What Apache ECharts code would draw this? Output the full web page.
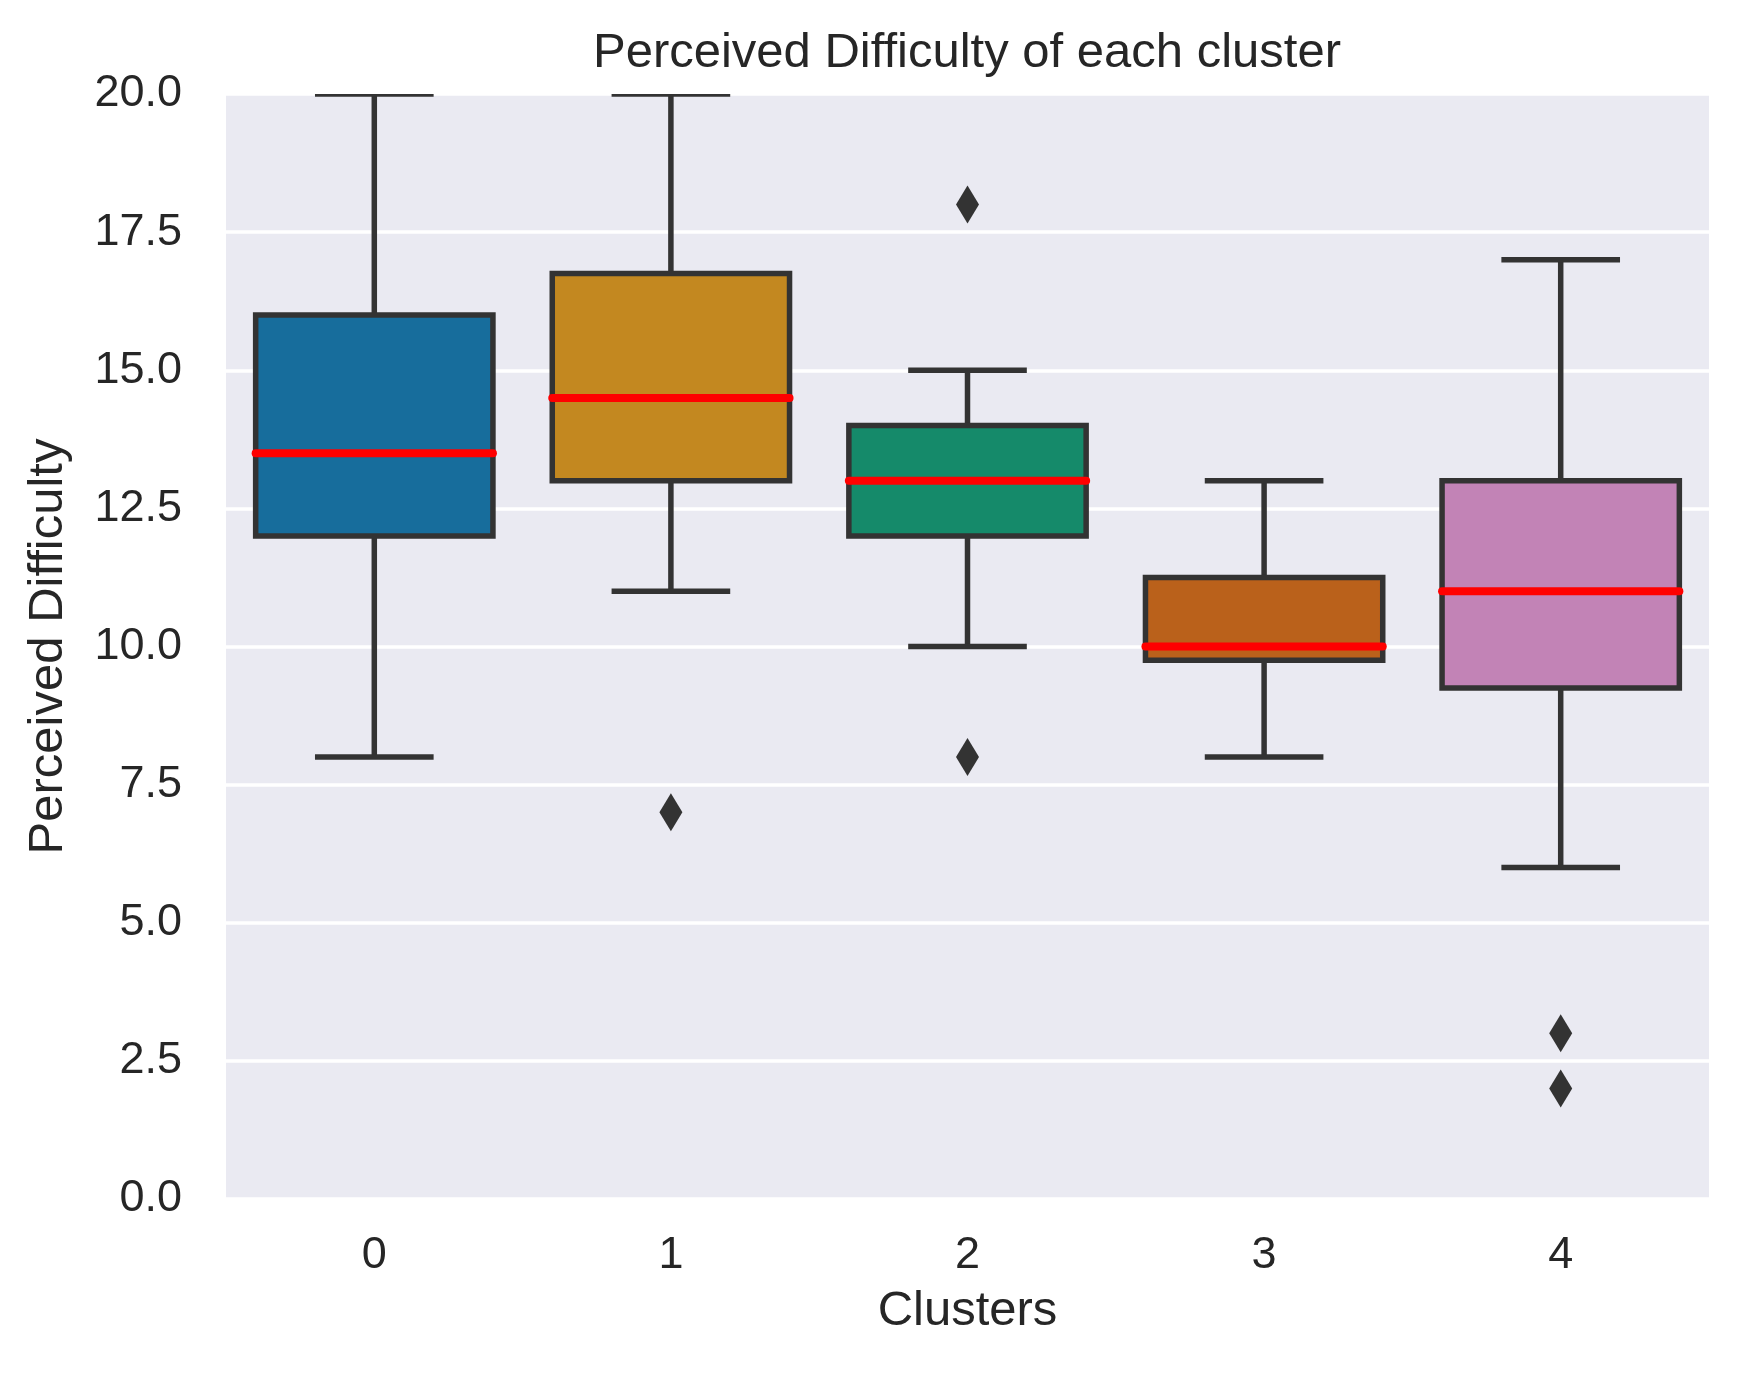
<!DOCTYPE html>
<html>
<head>
<meta charset="utf-8">
<script src="https://cdn.jsdelivr.net/npm/echarts@6/dist/echarts.min.js"></script>
<style>
  html,body{margin:0;padding:0;background:#fff;}
  #chart{width:1740px;height:1375px;}
</style>
</head>
<body>
<div id="chart"></div>
<script>
// data
var clusters=["0","1","2","3","4"];
var whiskerLow=[8,11,10,8,6];
var q1=[12,13,12,9.75,9.25];
var median=[13.5,14.5,13,10,11];
var q3=[16,16.75,14,11.25,13];
var whiskerHigh=[20,20,15,13,17];
var outlierCluster=[1,2,2,4,4];
var outlierValue=[7,18,8,3,2];
var yTicks=[0,2.5,5,7.5,10,12.5,15,17.5,20];

var boxColors=["#176d9c","#c38820","#158a6a","#ba611b","#c283b6"];
var ink="#333333";
var textColor="#262626";
var font="Liberation Sans";

// one row per cluster: index, low, q1, median, q3, high
var boxData=clusters.map(function(c,i){
    return [i,whiskerLow[i],q1[i],median[i],q3[i],whiskerHigh[i]];
});
var outlierData=outlierValue.map(function(v,i){return [outlierCluster[i],v];});

function renderBox(params,api){
    var x=api.value(0);
    var pLow=api.coord([x,api.value(1)]);
    var pQ1=api.coord([x,api.value(2)]);
    var pMed=api.coord([x,api.value(3)]);
    var pQ3=api.coord([x,api.value(4)]);
    var pHigh=api.coord([x,api.value(5)]);
    var band=api.size([1,0])[0];
    var w=band*0.8, cap=w/2, cx=pMed[0];
    var line={stroke:ink,lineWidth:5.5};
    return {
        type:"group",
        children:[
            {type:"line",shape:{x1:cx,y1:pQ3[1],x2:cx,y2:pHigh[1]},style:line},
            {type:"line",shape:{x1:cx,y1:pQ1[1],x2:cx,y2:pLow[1]},style:line},
            {type:"line",shape:{x1:cx-cap/2,y1:pHigh[1],x2:cx+cap/2,y2:pHigh[1]},style:line},
            {type:"line",shape:{x1:cx-cap/2,y1:pLow[1],x2:cx+cap/2,y2:pLow[1]},style:line},
            {type:"rect",shape:{x:cx-w/2,y:pQ3[1],width:w,height:pQ1[1]-pQ3[1]},
                style:{fill:boxColors[params.dataIndex],stroke:ink,lineWidth:5.5}},
            {type:"line",shape:{x1:cx-w/2,y1:pMed[1],x2:cx+w/2,y2:pMed[1]},
                style:{stroke:"#ff0000",lineWidth:8,lineCap:"round"}}
        ]
    };
}

var chart=echarts.init(document.getElementById("chart"));
chart.setOption({
    animation:false,
    backgroundColor:"#ffffff",
    title:{
        text:"Perceived Difficulty of each cluster",
        left:967,
        top:29,
        padding:0,
        textAlign:"center",
        textStyle:{fontFamily:font,fontSize:49,fontWeight:"normal",color:textColor}
    },
    grid:{
        left:226,right:31,top:94,bottom:176,
        show:true,backgroundColor:"#eaeaf2",borderWidth:0
    },
    xAxis:{
        type:"category",
        data:clusters,
        name:"Clusters",
        nameLocation:"middle",
        nameGap:88,
        nameTextStyle:{fontFamily:font,fontSize:49,color:textColor},
        axisLine:{show:false},
        axisTick:{show:false},
        axisLabel:{fontFamily:font,fontSize:45,color:textColor,margin:34},
        splitLine:{show:false}
    },
    yAxis:{
        type:"value",
        min:yTicks[0],
        max:yTicks[yTicks.length-1],
        interval:2.5,
        name:"Perceived Difficulty",
        nameLocation:"middle",
        nameGap:153,
        nameTextStyle:{fontFamily:font,fontSize:49,color:textColor},
        axisLine:{show:false},
        axisTick:{show:false},
        axisLabel:{
            fontFamily:font,fontSize:45,color:textColor,margin:44,
            formatter:function(v){return v.toFixed(1);}
        },
        splitLine:{show:true,lineStyle:{color:"#ffffff",width:3.5}}
    },
    series:[
        {
            type:"custom",
            data:boxData,
            renderItem:renderBox,
            clip:true,
            z:3
        },
        {
            type:"scatter",
            data:outlierData,
            symbol:"diamond",
            symbolSize:[23,38],
            itemStyle:{color:ink,opacity:1},
            z:4
        }
    ]
});
</script>
</body>
</html>
